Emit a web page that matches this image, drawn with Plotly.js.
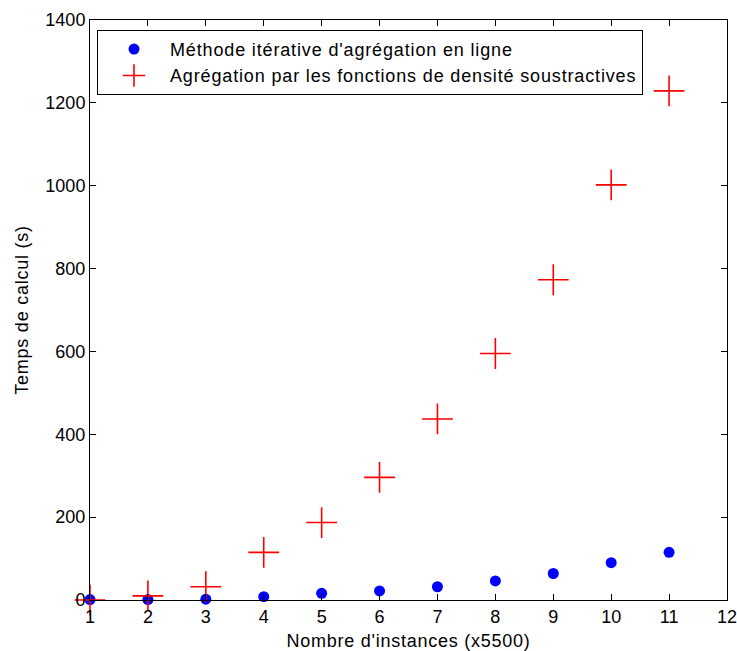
<!DOCTYPE html>
<html>
<head>
<meta charset="utf-8">
<script src="https://cdn.plot.ly/plotly-3.0.1.min.js"></script>
<style>
html,body{margin:0;padding:0;background:#fff;}
#chart{width:737px;height:651px;}
text.legendtext {letter-spacing: 0.85px;}
text.xtitle, text.ytitle {letter-spacing: 0.75px;}
</style>
</head>
<body>
<div id="chart"></div>
<script>
const instances = [1, 2, 3, 4, 5, 6, 7, 8, 9, 10, 11];
const iterativeTimes = [1, 1, 2, 8, 16, 22, 32, 46, 64, 90, 115];
const subtractiveTimes = [0, 10, 32, 115, 187, 296, 437, 595, 773, 1002, 1229];
const seriesNames = ["Méthode itérative d'agrégation en ligne", "Agrégation par les fonctions de densité soustractives"];
const xTicks = [1, 2, 3, 4, 5, 6, 7, 8, 9, 10, 11, 12];
const yTicks = [0, 200, 400, 600, 800, 1000, 1200, 1400];

const font = {family: 'Liberation Sans, Arial, sans-serif', size: 18, color: '#000'};

const traces = [
  {x: instances, y: iterativeTimes, name: seriesNames[0], type: 'scatter', mode: 'markers',
   marker: {symbol: 'circle', size: 11, color: '#0000ff'}, cliponaxis: false},
  {x: instances, y: subtractiveTimes, name: seriesNames[1], type: 'scatter', mode: 'markers',
   marker: {symbol: 'cross-thin', size: 22, color: '#ff0000', line: {color: '#ff0000', width: 1.6}}, cliponaxis: false}
];

const axisBase = {showgrid: false, zeroline: false, showline: true, mirror: 'ticks', linecolor: '#000', linewidth: 1,
  ticks: 'inside', ticklen: 6, tickcolor: '#000', tickwidth: 1, tickfont: font, ticklabeloverflow: 'allow'};

const layout = {
  width: 737, height: 651,
  margin: {l: 90, r: 10, t: 20, b: 51},
  paper_bgcolor: '#fff', plot_bgcolor: '#fff',
  font: font,
  showlegend: true,
  legend: {x: 0.011, y: 0.983, xanchor: 'left', yanchor: 'top', bordercolor: '#000', borderwidth: 1, bgcolor: '#fff',
    font: font, itemsizing: 'trace', itemwidth: 62, tracegroupgap: 0},
  xaxis: Object.assign({}, axisBase, {range: [1, 12], tickvals: xTicks, ticktext: xTicks.map(String),
    title: {text: "Nombre d'instances (x5500)", font: font, standoff: 8}}),
  yaxis: Object.assign({}, axisBase, {range: [0, 1400], tickvals: yTicks, ticktext: yTicks.map(String),
    title: {text: 'Temps de calcul (s)', font: font, standoff: 12}})
};

Plotly.newPlot('chart', traces, layout, {displayModeBar: false, staticPlot: true});
</script>
</body>
</html>
